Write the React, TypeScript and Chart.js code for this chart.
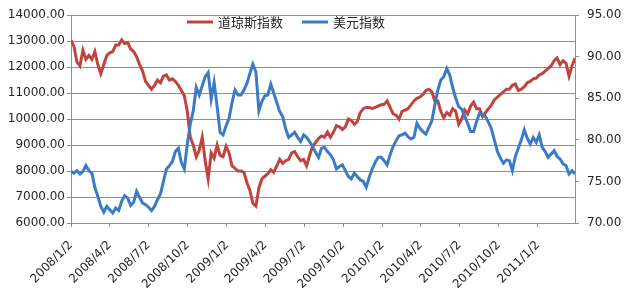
import React, { useEffect, useRef } from 'react';
import Chart from 'chart.js/auto';

const START_DATE = '2008/1/2';
const STEP_DAYS = 7;

const tickLabels = [
  '2008/1/2', '2008/4/2', '2008/7/2', '2008/10/2',
  '2009/1/2', '2009/4/2', '2009/7/2', '2009/10/2',
  '2010/1/2', '2010/4/2', '2010/7/2', '2010/10/2',
  '2011/1/2',
];

const dowName = '道琼斯指数';
const usdName = '美元指数';

const dowSeries = [
  13040, 12800, 12200, 12050, 12650, 12300, 12450, 12300, 12600, 12100,
  11750, 12100, 12450, 12550, 12600, 12850, 12850, 13050, 12900, 12950,
  12700, 12600, 12400, 12100, 11850, 11450, 11300, 11150, 11300, 11500,
  11400, 11650, 11700, 11500, 11550, 11450, 11300, 11100, 10900, 10300,
  9300, 9000, 8550, 8800, 9300, 8400, 7700, 8700, 8500, 9000,
  8600, 8550, 8950, 8700, 8200, 8100, 8000, 8000, 7950, 7550,
  7250, 6750, 6650, 7350, 7700, 7800, 7900, 8050, 7950, 8200,
  8450, 8300, 8400, 8450, 8700, 8750, 8550, 8400, 8450, 8200,
  8600, 8950, 9100, 9250, 9350, 9300, 9500, 9300, 9500, 9750,
  9700, 9600, 9700, 10000, 9950, 9800, 9900, 10250, 10400, 10450,
  10450, 10400, 10450, 10500, 10550, 10570, 10700, 10450, 10200, 10150,
  10000, 10300, 10350, 10400, 10550, 10700, 10800, 10850, 10950, 11100,
  11150, 11050, 10700, 10700, 10300, 10050, 10250, 10150, 10400, 10300,
  9800, 10000, 10350, 10200, 10500, 10650, 10400, 10400, 10100, 10250,
  10400, 10550, 10750, 10850, 10950, 11050, 11150, 11150, 11300, 11350,
  11100, 11150, 11250, 11400, 11450, 11550, 11580, 11700, 11750, 11850,
  11950, 12050, 12250, 12350, 12100, 12250, 12150, 11650, 12050, 12350,
];

const usdSeries = [
  76.2, 76.0, 76.3, 75.9, 76.2, 76.9, 76.3, 76.0, 74.3, 73.2,
  72.0, 71.3, 72.0, 71.6, 71.2, 71.8, 71.5, 72.6, 73.3, 73.0,
  72.1, 72.5, 73.8, 73.1, 72.4, 72.2, 71.9, 71.5, 72.0, 72.8,
  73.5, 75.0, 76.5, 76.9, 77.4, 78.6, 79.0, 77.3, 76.5, 79.5,
  81.9, 83.5, 86.3, 85.4, 86.5, 87.6, 88.1, 84.9, 86.9, 84.0,
  80.9, 80.6, 81.7, 82.6, 84.5, 86.0, 85.4, 85.4, 86.0, 86.8,
  88.0, 89.1, 88.2, 83.5, 84.6, 85.3, 85.4, 86.7, 85.6, 84.5,
  83.4, 82.8, 81.3, 80.3, 80.6, 80.9, 80.3, 79.8, 80.6, 80.3,
  79.8, 79.2, 78.5, 77.9, 79.0, 79.1, 78.6, 78.2, 77.6, 76.5,
  76.8, 77.0, 76.3, 75.6, 75.3, 76.0, 75.6, 75.2, 75.0, 74.3,
  75.5, 76.5, 77.3, 77.9, 77.9, 77.5, 77.0, 78.2, 79.2, 79.9,
  80.5, 80.6, 80.8, 80.4, 80.1, 80.3, 82.0, 81.4, 81.0, 80.7,
  81.5, 82.3, 84.2, 86.0, 87.2, 87.6, 88.6, 87.8, 86.3, 85.0,
  84.0, 83.7, 82.9, 82.0, 81.0, 81.0, 82.2, 83.2, 83.0, 82.8,
  82.1, 81.3, 79.9, 78.6, 77.8, 77.2, 77.6, 77.5, 76.3, 78.0,
  79.0, 80.0, 81.2, 80.2, 79.5, 80.3, 79.7, 80.6, 79.1, 78.6,
  77.9, 78.3, 78.7, 78.0, 77.7, 77.1, 76.9, 75.9, 76.3, 75.9,
];

const RED = '#c0433f';
const BLUE = '#3b7bc6';
const GRID = '#8f8f8f';
const TEXT = '#262626';

function dayOffset(label: string): number {
  const [y, m, d] = label.split('/').map(Number);
  const [y0, m0, d0] = START_DATE.split('/').map(Number);
  return Math.round((Date.UTC(y, m - 1, d) - Date.UTC(y0, m0 - 1, d0)) / 86400000);
}

const inlineLegend = {
  id: 'inlineLegend',
  afterDraw(chart: any) {
    const ctx = chart.ctx;
    const items = [
      { name: dowName, color: RED },
      { name: usdName, color: BLUE },
    ];
    ctx.save();
    ctx.font = '13px "Noto Sans CJK SC", sans-serif';
    ctx.textBaseline = 'middle';
    ctx.textAlign = 'left';
    let x = 187;
    const y = 22;
    items.forEach((it) => {
      ctx.strokeStyle = it.color;
      ctx.lineWidth = 3;
      ctx.beginPath();
      ctx.moveTo(x, y);
      ctx.lineTo(x + 26, y);
      ctx.stroke();
      ctx.fillStyle = TEXT;
      ctx.fillText(it.name, x + 31, y);
      x += 31 + ctx.measureText(it.name).width + 19;
    });
    ctx.restore();
  },
};

export default function App() {
  const ref = useRef<HTMLCanvasElement | null>(null);

  useEffect(() => {
    if (!ref.current) return;
    const tickDays = tickLabels.map(dayOffset);
    const lastDay = (dowSeries.length - 1) * STEP_DAYS;
    const dowPts = dowSeries.map((v, i) => ({ x: i * STEP_DAYS, y: v }));
    const usdPts = usdSeries.map((v, i) => ({ x: i * STEP_DAYS, y: v }));
    const font = { family: '"DejaVu Sans", sans-serif', size: 12 };

    const chart = new Chart(ref.current, {
      type: 'line',
      data: {
        datasets: [
          {
            label: dowName,
            data: dowPts,
            borderColor: RED,
            backgroundColor: RED,
            borderWidth: 3,
            pointRadius: 0,
            tension: 0,
            yAxisID: 'y',
            order: 1,
          },
          {
            label: usdName,
            data: usdPts,
            borderColor: BLUE,
            backgroundColor: BLUE,
            borderWidth: 3,
            pointRadius: 0,
            tension: 0,
            yAxisID: 'y1',
            order: 0,
          },
        ],
      },
      options: {
        animation: false,
        responsive: false,
        devicePixelRatio: 1,
        layout: { padding: { top: 9, left: 0, right: 0, bottom: 0 } },
        plugins: {
          legend: { display: false },
          tooltip: { enabled: false },
        },
        scales: {
          x: {
            type: 'linear',
            min: 0,
            max: lastDay,
            afterBuildTicks: (scale: any) => {
              scale.ticks = tickDays.map((v) => ({ value: v }));
            },
            afterFit: (scale: any) => {
              scale.height = 69;
            },
            ticks: {
              autoSkip: false,
              maxRotation: 45,
              minRotation: 45,
              padding: 11,
              color: TEXT,
              font,
              callback: (_v: any, i: number) => tickLabels[i],
            },
            grid: { drawOnChartArea: false, color: GRID, tickLength: 4 },
            border: { color: GRID },
          },
          y: {
            position: 'left',
            min: 6000,
            max: 14000,
            afterFit: (scale: any) => {
              scale.width = 71;
            },
            ticks: {
              stepSize: 1000,
              padding: 2,
              color: TEXT,
              font,
              callback: (v: any) => Number(v).toFixed(2),
            },
            grid: { color: GRID, tickLength: 4 },
            border: { color: GRID },
          },
          y1: {
            position: 'right',
            min: 70,
            max: 95,
            afterFit: (scale: any) => {
              scale.width = 50;
            },
            ticks: {
              stepSize: 5,
              padding: 8,
              color: TEXT,
              font,
              callback: (v: any) => Number(v).toFixed(2),
            },
            grid: { drawOnChartArea: false, color: GRID, tickLength: 4 },
            border: { color: GRID },
          },
        },
      },
      plugins: [inlineLegend],
    });
    return () => chart.destroy();
  }, []);

  return (
    <div style={{ position: 'fixed', left: 0, top: 0, width: 625, height: 292, background: '#fff' }}>
      <canvas ref={ref} width={625} height={292} />
    </div>
  );
}
